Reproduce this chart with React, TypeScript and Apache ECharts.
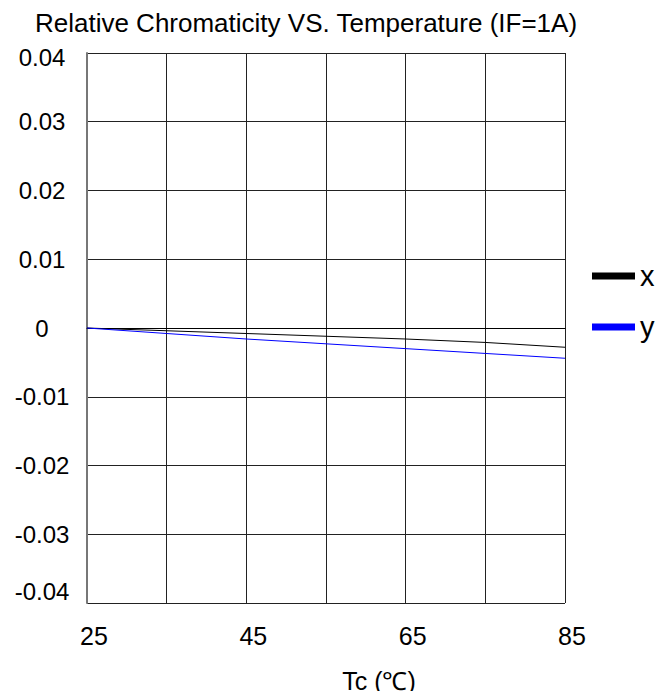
import React, { useEffect, useRef } from "react";
import * as echarts from "echarts";

const temps = [25, 35, 45, 55, 65, 75, 85];
const xValues = [0, -0.0004, -0.0008, -0.0012, -0.0016, -0.0021, -0.0028];
const yValues = [0, -0.0008, -0.0016, -0.0023, -0.003, -0.0037, -0.0044];
const xTickLabels = [25, 45, 65, 85];
const seriesNames = ["x", "y"];
const T0 = 25;
const Y_MAX = 0.04;

const FONT = "Liberation Sans, Arial, sans-serif";

export default function App() {
  const ref = useRef<HTMLDivElement>(null);
  useEffect(() => {
    if (!ref.current) return;
    const chart = echarts.init(ref.current, null, { renderer: "svg" });
    const toPts = (vals: number[]) => temps.map((t, i) => [t - T0, vals[i]]);
    chart.setOption({
      animation: false,
      backgroundColor: "#fff",
      textStyle: { fontFamily: FONT },
      title: {
        text: "Relative Chromaticity VS. Temperature (IF=1A)",
        left: 301,
        textAlign: "center",
        top: 5,
        textStyle: { fontFamily: FONT, fontSize: 26, fontWeight: "normal", color: "#000" },
      },
      legend: {
        orient: "vertical",
        left: 587,
        top: 251,
        itemWidth: 43,
        itemHeight: 7,
        itemGap: 11,
        icon: "rect",
        textStyle: {
          fontFamily: FONT,
          fontSize: 29,
          lineHeight: 29,
          color: "#000",
          padding: [11, 0, 0, 0],
        },
        data: seriesNames,
      },
      grid: { left: 87, right: 99, top: 53, bottom: 96, containLabel: false },
      xAxis: {
        type: "value",
        min: 0,
        max: 60,
        interval: 10,
        name: "Tc (℃)",
        nameLocation: "middle",
        nameGap: 65,
        nameTextStyle: { fontFamily: FONT, fontSize: 25, color: "#000", padding: [0, 0, 0, 106] },
        axisLine: { show: true, lineStyle: { color: "#000", width: 1 } },
        axisTick: { show: false },
        splitLine: { show: true, lineStyle: { color: "#222", width: 1 } },
        axisLabel: {
          margin: 20,
          fontFamily: FONT,
          fontSize: 25,
          color: "#000",
          padding: [0, 0, 0, 14],
          formatter: (v: number) => {
            const t = Math.round(v + T0);
            return xTickLabels.includes(t) ? String(t) : "";
          },
        },
      },
      yAxis: {
        type: "value",
        min: -0.04,
        max: Y_MAX,
        interval: 0.01,
        axisLine: { show: true, lineStyle: { color: "#777", width: 2 } },
        axisTick: { show: false },
        splitLine: { show: true, lineStyle: { color: "#222", width: 1 } },
        axisLabel: {
          margin: 45,
          align: "center",
          fontFamily: FONT,
          fontSize: 24,
          color: "#000",
          verticalAlignMinLabel: "bottom",
          formatter: (v: number) => {
            const s = String(parseFloat(v.toFixed(2)));
            return Math.abs(v - Y_MAX) < 1e-9 ? "{top|" + s + "}" : s;
          },
          rich: {
            top: { fontFamily: FONT, fontSize: 24, color: "#000", padding: [8, 0, 0, 0] },
          },
        },
      },
      series: [
        {
          name: seriesNames[0],
          type: "line",
          data: toPts(xValues),
          showSymbol: false,
          lineStyle: { color: "#000", width: 1 },
          itemStyle: { color: "#000" },
        },
        {
          name: seriesNames[1],
          type: "line",
          data: toPts(yValues),
          showSymbol: false,
          lineStyle: { color: "#0000ff", width: 1 },
          itemStyle: { color: "#0000ff" },
        },
      ],
    });
    return () => chart.dispose();
  }, []);
  return <div ref={ref} style={{ width: 664, height: 699, margin: -8 }} />;
}
